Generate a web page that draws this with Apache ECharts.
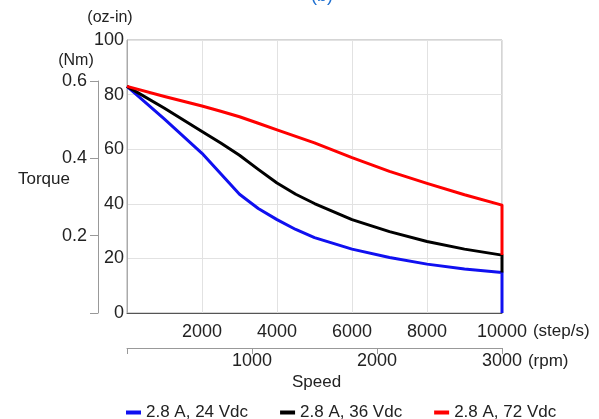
<!DOCTYPE html>
<html>
<head>
<meta charset="utf-8">
<script src="https://cdn.jsdelivr.net/npm/echarts@6/dist/echarts.min.js"></script>
<style>html,body{margin:0;padding:0;background:#fff;}#c{width:599px;height:419px;}</style>
</head>
<body>
<div id="c"></div>
<script>
// Speed in step/s
const speeds = [0, 1000, 2000, 2500, 3000, 3500, 4000, 4500, 5000, 6000, 7000, 8000, 9000, 10000];
// Torque in oz-in
const blue24 = [83, 71, 58.5, 51, 43.5, 38.3, 34.2, 30.6, 27.6, 23.4, 20.3, 17.9, 16.1, 14.8];
const black36 = [83, 75, 66.5, 62.3, 57.8, 52.6, 47.6, 43.5, 40.1, 34.2, 29.8, 26.2, 23.4, 21.2];
const red72 = [83, 79.3, 75.8, 73.9, 71.9, 69.5, 67.1, 64.7, 62.3, 56.9, 51.9, 47.5, 43.3, 39.5];
const seriesNames = ['2.8 A, 24 Vdc', '2.8 A, 36 Vdc', '2.8 A, 72 Vdc'];
const stepTicks = [2000, 4000, 6000, 8000, 10000];
const rpmTicks = [1000, 2000, 3000];
const nmTicks = [0.2, 0.4, 0.6];
const ozTicks = [0, 20, 40, 60, 80, 100];

function pairs(vals, endDrop) {
  const d = speeds.map((s, i) => [s, vals[i]]);
  if (endDrop !== undefined) d.push([10000, endDrop]);
  return d;
}

const FONT = 'Liberation Sans';
const TXT = '#222';
const chart = echarts.init(document.getElementById('c'), null, {renderer: 'canvas'});
chart.setOption({
  animation: false,
  backgroundColor: '#fff',
  textStyle: {fontFamily: FONT, color: TXT},
  title: [
    {text: '(b)', left: 306, top: -18, textStyle: {color: '#1e6fd0', fontSize: 18, fontWeight: 'normal', fontFamily: FONT}},
    {text: 'Torque', left: 13, top: 166, textStyle: {color: TXT, fontSize: 17, fontWeight: 'normal', fontFamily: FONT}},
    {text: 'Speed', left: 287, top: 369, textStyle: {color: TXT, fontSize: 17, fontWeight: 'normal', fontFamily: FONT}}
  ],
  legend: {
    left: 121, top: 399, itemWidth: 15, itemHeight: 4, itemGap: 32, icon: 'rect',
    textStyle: {fontSize: 17, color: TXT, fontFamily: FONT},
    data: seriesNames
  },
  grid: [
    {left: 127, right: 97, top: 40, bottom: 106, show: true, borderColor: '#aaa', borderWidth: 1},
    {left: 98, width: 1, top: 81, bottom: 106}
  ],
  xAxis: [
    {
      type: 'value', gridIndex: 0, min: 0, max: 10000, interval: 2000,
      axisLine: {lineStyle: {color: '#555', width: 1}},
      axisTick: {show: false},
      axisLabel: {fontSize: 18, color: TXT, margin: 10, fontFamily: FONT,
        formatter: v => stepTicks.indexOf(v) >= 0 ? String(v) : ''},
      splitLine: {show: true, lineStyle: {color: '#e2e2e2'}},
      name: '{u|(step/s)}', nameLocation: 'end', nameGap: 25,
      nameTextStyle: {rich: {u: {fontSize: 17, color: TXT, fontFamily: FONT, padding: [37, 0, 0, 0]}}}
    },
    {
      type: 'value', gridIndex: 0, position: 'bottom', offset: 35,
      min: 0, max: 3000, interval: 1000,
      axisLine: {show: true, lineStyle: {color: '#999', width: 1}},
      axisTick: {show: true, length: 6, inside: false, lineStyle: {color: '#999'}},
      axisLabel: {fontSize: 18, color: TXT, margin: 4, fontFamily: FONT,
        formatter: v => rpmTicks.indexOf(v) >= 0 ? String(v) : ''},
      splitLine: {show: false},
      name: '{u|(rpm)}', nameLocation: 'end', nameGap: 25,
      nameTextStyle: {rich: {u: {fontSize: 17, color: TXT, fontFamily: FONT, padding: [27, 0, 0, 0]}}}
    },
    {type: 'value', gridIndex: 1, show: false, min: 0, max: 1}
  ],
  yAxis: [
    {
      type: 'value', gridIndex: 0, min: 0, max: 100, interval: 20,
      axisLine: {show: true, lineStyle: {color: '#aaa'}},
      axisTick: {show: false},
      axisLabel: {fontSize: 18, color: TXT, margin: 3, fontFamily: FONT,
        formatter: v => ozTicks.indexOf(v) >= 0 ? String(v) : ''},
      splitLine: {show: true, lineStyle: {color: '#e2e2e2'}},
      name: '(oz-in)', nameLocation: 'end', nameGap: 14,
      nameTextStyle: {fontSize: 16, color: TXT, fontFamily: FONT, align: 'center', padding: [0, 34, 0, 0]}
    },
    {
      type: 'value', gridIndex: 1, min: 0, max: 0.6, interval: 0.2, position: 'left',
      axisLine: {show: true, lineStyle: {color: '#999'}},
      axisTick: {show: true, length: 8, lineStyle: {color: '#999'}},
      axisLabel: {fontSize: 18, color: TXT, margin: 11, fontFamily: FONT,
        formatter: v => nmTicks.some(t => Math.abs(t - v) < 1e-9) ? v.toFixed(1) : ''},
      splitLine: {show: false},
      name: '(Nm)', nameLocation: 'end', nameGap: 12,
      nameTextStyle: {fontSize: 16, color: TXT, fontFamily: FONT, align: 'center', padding: [0, 44, 0, 0]}
    }
  ],
  series: [
    {name: seriesNames[0], type: 'line', xAxisIndex: 0, yAxisIndex: 0, data: pairs(blue24, 0),
      smooth: false, showSymbol: false, symbol: 'none',
      lineStyle: {color: '#1010f0', width: 3, join: 'round'}, itemStyle: {color: '#1010f0'}},
    {name: seriesNames[1], type: 'line', xAxisIndex: 0, yAxisIndex: 0, data: pairs(black36, blue24[blue24.length - 1]),
      smooth: false, showSymbol: false, symbol: 'none',
      lineStyle: {color: '#000', width: 3, join: 'round'}, itemStyle: {color: '#000'}},
    {name: seriesNames[2], type: 'line', xAxisIndex: 0, yAxisIndex: 0, data: pairs(red72, black36[black36.length - 1]),
      smooth: false, showSymbol: false, symbol: 'none',
      lineStyle: {color: '#ff0000', width: 3, join: 'round'}, itemStyle: {color: '#ff0000'}}
  ]
});
</script>
</body>
</html>
